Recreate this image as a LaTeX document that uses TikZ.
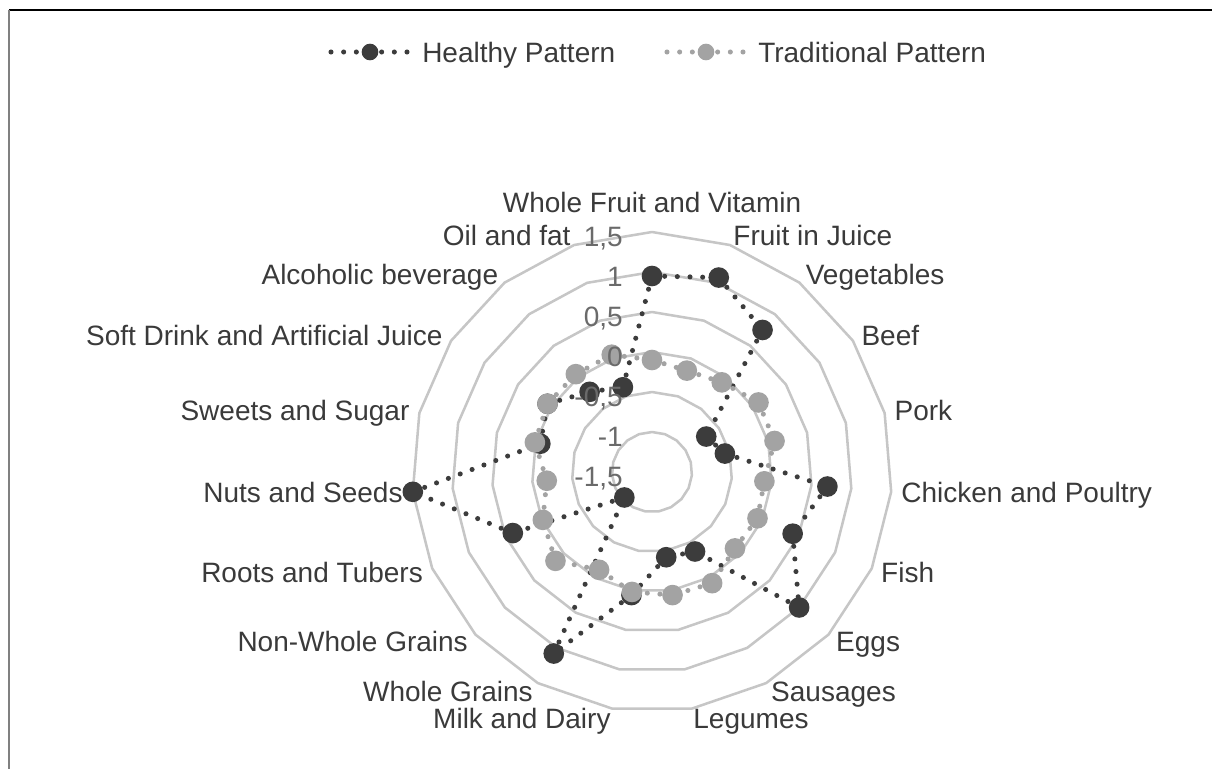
\documentclass[tikz,border=0pt]{standalone}
\usepackage{fontspec}
\setmainfont{Liberation Sans}
\definecolor{txtgray}{HTML}{3A3A3A}
\definecolor{valgray}{HTML}{6A6A6A}
\definecolor{ringgray}{HTML}{C6C6C6}
\definecolor{darkpt}{HTML}{3C3C3C}
\definecolor{lightpt}{HTML}{A3A3A3}
\tikzset{
  ring/.style={draw=ringgray,line width=1.9pt,line join=round},
  hdot/.style={circle,fill=darkpt,minimum size=15.5pt,inner sep=0pt},
  tdot/.style={circle,fill=lightpt,minimum size=15.5pt,inner sep=0pt},
  hline/.style={darkpt,line width=3.8pt,line cap=round,dash pattern=on 0pt off 9.5pt},
  tline/.style={lightpt,line width=3.8pt,line cap=round,dash pattern=on 0pt off 9.5pt},
  catlabel/.style={text=txtgray,inner sep=0pt,text height=15.1pt,text depth=0pt,font=\fontsize{21}{25}\selectfont},
  vallabel/.style={catlabel,text=valgray,anchor=east}
}
\begin{document}
\begin{tikzpicture}[x=0.75pt,y=0.75pt]
\pgfmathsetmacro{\dr}{40}
\pgfmathsetmacro{\da}{360/19}
\useasboundingbox (-652,-297) rectangle (560,472);
\draw[black,line width=1.1pt](-643,462)--(560,462);
\draw[gray,line width=1.3pt](-643,462)--(-643,-297);
\foreach \k in {1,...,6}
  \draw[ring](90:\k*\dr)\foreach \j in {1,...,18}{--({90-\j*\da}:\k*\dr)}--cycle;
\foreach \lab/\anc/\rr [count=\i from 0] in {Whole Fruit and Vitamin/south/259,Fruit in Juice/west/250,Vegetables/west/250,Beef/west/250,Pork/west/250,Chicken and Poultry/west/250,Fish/west/250,Eggs/west/250,Sausages/west/250,Legumes/west/250,Milk and Dairy/east/250,Whole Grains/east/250,Non-Whole Grains/east/250,Roots and Tubers/east/250,Nuts and Seeds/east/250,Sweets and Sugar/east/250,Soft Drink and Artificial Juice/east/250,Alcoholic beverage/east/250,Oil and fat/east/250}
  \node[catlabel,anchor=\anc](c\i) at ({90-\i*\da}:\rr){\lab};
\foreach \v [count=\i from 0] in {0.95,1.07,0.75,-0.69,-0.56,0.70,0.42,1.00,-0.37,-0.42,0.06,1.08,-1.03,0.40,1.50,-0.06,0.06,-0.23,-0.38}
  \coordinate(h\i) at ({90-\i*\da}:{(\v+1.5)*2*\dr});
\foreach \v [count=\i from 0] in {-0.10,-0.16,-0.08,0.09,0.08,-0.09,-0.06,-0.09,0.08,0.06,0.02,-0.11,0.14,-0.01,-0.18,0.01,0.06,0.05,0.05}
  \coordinate(t\i) at ({90-\i*\da}:{(\v+1.5)*2*\dr});
\foreach \i [evaluate=\i as \j using {int(mod(\i+1,19))}] in {0,...,18}
  \draw[hline](h\i)--(h\j);
\foreach \i in {0,...,18}
  \node[hdot](hm\i) at (h\i){};
\foreach \i [evaluate=\i as \j using {int(mod(\i+1,19))}] in {0,...,18}
  \draw[tline](t\i)--(t\j);
\foreach \i in {0,...,18}
  \node[tdot](tm\i) at (t\i){};
\foreach \k/\val in {0/{-1,5},1/-1,2/{-0,5},3/0,4/{0,5},5/1,6/{1,5}}
  \node[vallabel](v\k) at (-29,\k*\dr-4){\val};
\coordinate(lh1) at (-321,420);
\coordinate(lh2) at (-243,420);
\draw[hline](lh1)--(lh2);
\node[hdot,minimum size=12.5pt](lhm) at (-282,420){};
\node[catlabel,anchor=west](lht) at (-230,420){Healthy Pattern};
\coordinate(lt1) at (15,420);
\coordinate(lt2) at (93,420);
\draw[tline](lt1)--(lt2);
\node[tdot,minimum size=12.5pt](ltm) at (54,420){};
\node[catlabel,anchor=west](ltt) at (106,420){Traditional Pattern};
\end{tikzpicture}
\end{document}
